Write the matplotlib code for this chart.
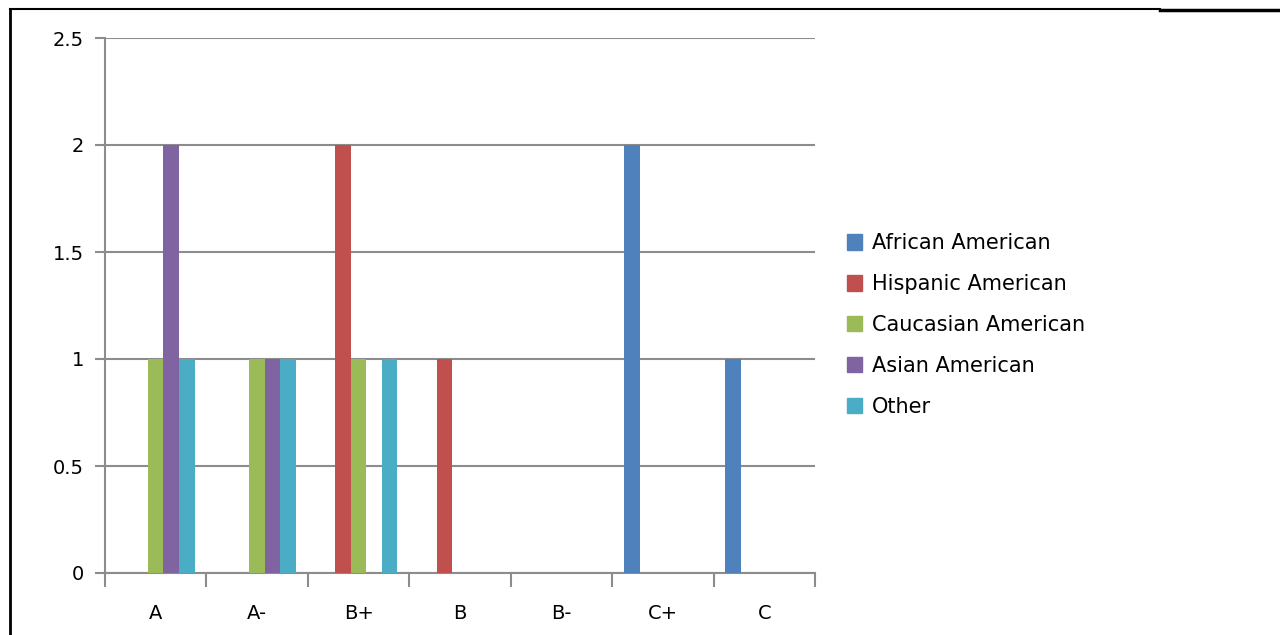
import numpy as np
import matplotlib.pyplot as plt
from matplotlib.lines import Line2D
from matplotlib.patches import Patch

grades = ['A', 'A-', 'B+', 'B', 'B-', 'C+', 'C']
groups = ['African American', 'Hispanic American', 'Caucasian American',
          'Asian American', 'Other']
african = [0, 0, 0, 0, 0, 2, 1]
hispanic = [0, 0, 2, 1, 0, 0, 0]
caucasian = [1, 1, 1, 0, 0, 0, 0]
asian = [2, 1, 0, 0, 0, 0, 0]
other = [1, 1, 1, 0, 0, 0, 0]
colors = ['#4f81bd', '#c0504d', '#9bbb59', '#8064a2', '#4bacc6']

series = [african, hispanic, caucasian, asian, other]

fig = plt.figure(figsize=(12.8, 6.35), dpi=100)
ax = fig.add_axes([105 / 1280, 62 / 635, 710 / 1280, 535 / 635])

x = np.arange(len(grades))
w = 0.153
for i, vals in enumerate(series):
    ax.bar(x + (i - 2) * w, vals, w, color=colors[i], zorder=3)

ax.set_xlim(-0.5, len(grades) - 0.5)
ax.set_ylim(0, 2.5)
ax.set_yticks(np.arange(0, 2.51, 0.5))
ax.set_yticklabels(['0', '0.5', '1', '1.5', '2', '2.5'])
ax.yaxis.grid(True, color='#8c8c8c', lw=1.5, zorder=0)
ax.set_xticks(x)
ax.set_xticklabels(grades)
ax.set_xticks(np.arange(-0.5, len(grades)), minor=True)
ax.tick_params(axis='x', which='major', length=0, pad=22, labelsize=14)
ax.tick_params(axis='x', which='minor', length=10, width=1.5, color='#8c8c8c')
ax.tick_params(axis='y', length=7, width=1.5, color='#8c8c8c', labelsize=14, pad=8)
for s in ['top', 'right']:
    ax.spines[s].set_visible(False)
for s in ['left', 'bottom']:
    ax.spines[s].set_color('#8c8c8c')
    ax.spines[s].set_linewidth(1.5)

handles = [Patch(color=c, label=g) for c, g in zip(colors, groups)]
fig.legend(handles=handles, loc='center left', bbox_to_anchor=(828 / 1280, 1 - 325 / 635),
           frameon=False, fontsize=15, handlelength=0.75, handleheight=0.75,
           handletextpad=0.45, labelspacing=1.0)

# outer frame lines
fig.add_artist(Line2D([10 / 1280, 1160 / 1280], [1 - 9 / 635, 1 - 9 / 635], color='black', lw=1.5))
fig.add_artist(Line2D([1160 / 1280, 1], [1 - 9.5 / 635, 1 - 9.5 / 635], color='black', lw=2.5))
fig.add_artist(Line2D([10 / 1280, 10 / 1280], [0, 1 - 9 / 635], color='black', lw=2))

fig.savefig('out.png', dpi=100)
